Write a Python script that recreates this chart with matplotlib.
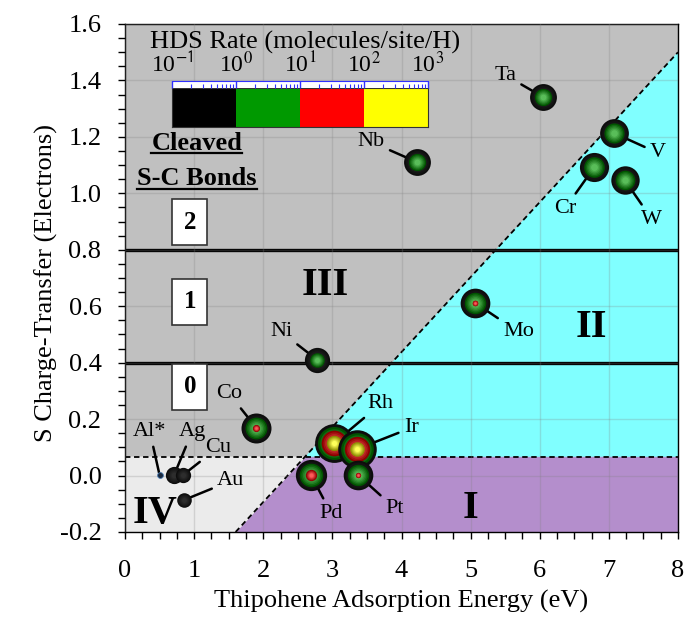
import numpy as np
import matplotlib
matplotlib.use("Agg")
import matplotlib.pyplot as plt
from matplotlib.patches import Polygon
from matplotlib.lines import Line2D
from matplotlib.ticker import MultipleLocator, LogLocator, NullFormatter

plt.rcParams['font.family'] = ['Liberation Serif', 'DejaVu Serif']
plt.rcParams['mathtext.fontset'] = 'stix'
plt.rcParams['axes.unicode_minus'] = False

# metals, adsorption energy (eV), S charge transfer (e), log10 HDS rate
metals = ['Ta', 'Nb', 'V', 'Cr', 'W', 'Mo', 'Ni', 'Co',
          'Rh', 'Ir', 'Pd', 'Pt', 'Al*', 'Ag', 'Cu', 'Au']
energy = [6.05, 4.22, 7.07, 6.79, 7.23, 5.07, 2.78, 1.90,
          3.03, 3.36, 2.69, 3.37, 0.50, 0.71, 0.84, 0.86]
charge = [1.341, 1.111, 1.214, 1.093, 1.047, 0.611, 0.410, 0.169,
          0.116, 0.094, 0.002, 0.002, 0.002, 0.002, 0.002, -0.086]
log_rate = [0.70, 0.70, 0.95, 1.00, 0.90, 1.08, 0.50, 1.12,
            2.55, 2.50, 1.30, 1.07, -0.92, -0.30, -0.45, -0.50]
# where each metal's name sits
label_x = [5.50, 3.56, 7.71, 6.37, 7.62, 5.69, 2.26, 1.51,
           3.70, 4.14, 2.98, 3.90, 0.36, 0.97, 1.34, 1.53]
label_y = [1.419, 1.182, 1.143, 0.948, 0.909, 0.509, 0.509, 0.289,
           0.254, 0.169, -0.133, -0.115, 0.155, 0.155, 0.098, -0.019]

# rate decades and their colours
decade_edges = [0.1, 1, 10, 100, 1000]
decade_labels = ['10$^{\\mathsf{-1}}$', '10$^{0}$', '10$^{1}$', '10$^{2}$', '10$^{3}$']
decade_colors = ['#000000', '#009900', '#ff0000', '#ffff00']

# region boundaries
charge_split = 0.065
diag_start = (1.6, -0.2)
diag_end = (8.0, 1.5)
bond_levels = [0.4, 0.8]
bond_counts = ['0', '1', '2']
bond_label_y = [0.314, 0.615, 0.898]

xmin, xmax, ymin, ymax = 0, 8, -0.2, 1.6


def diag_x(y):
    slope = (diag_end[1] - diag_start[1]) / (diag_end[0] - diag_start[0])
    return diag_start[0] + (y - diag_start[1]) / slope


fig = plt.figure(figsize=(6.85, 6.26), dpi=100)
ax = fig.add_axes([125 / 685, 1 - 532 / 626, 553 / 685, 508 / 626])
ax.set_xlim(xmin, xmax)
ax.set_ylim(ymin, ymax)

# background regions
xs = diag_x(charge_split)
ax.add_patch(Polygon([(xmin, charge_split), (xs, charge_split), diag_end,
                      (xmax, ymax), (xmin, ymax)], color='#c0c0c0', zorder=0))
ax.add_patch(Polygon([(xs, charge_split), (xmax, charge_split), diag_end],
                     color='#80ffff', zorder=0))
ax.add_patch(Polygon([diag_start, (xmax, ymin), (xmax, charge_split),
                      (xs, charge_split)], color='#b48ecc', zorder=0))
ax.add_patch(Polygon([(xmin, ymin), diag_start, (xs, charge_split),
                      (xmin, charge_split)], color='#ebebeb', zorder=0))

ax.grid(True, which='major', color='#808080', alpha=0.25, lw=1.0, zorder=1)
ax.set_axisbelow(False)

ax.plot([diag_start[0], diag_end[0]], [diag_start[1], diag_end[1]],
        color='k', lw=1.3, ls=(0, (3, 2)), zorder=2)
ax.axhline(charge_split, color='k', lw=1.3, ls=(0, (3, 2)), zorder=2)
for lev in bond_levels:
    ax.axhline(lev, color='k', lw=2.4, zorder=2)

# axes and ticks
ax.xaxis.set_major_locator(MultipleLocator(1))
ax.xaxis.set_minor_locator(MultipleLocator(0.25))
ax.yaxis.set_major_locator(MultipleLocator(0.2))
ax.yaxis.set_minor_locator(MultipleLocator(0.05))
ax.yaxis.set_major_formatter(plt.FuncFormatter(lambda v, p: f'{v:.1f}'))
ax.tick_params(which='both', direction='out', length=5, width=1, labelsize=19)
ax.tick_params(axis='x', pad=15)
ax.tick_params(axis='y', pad=12)
for sp in ax.spines.values():
    sp.set_linewidth(1.0)
ax.set_xlabel('Thipohene Adsorption Energy (eV)', fontsize=19, labelpad=6)
ax.set_ylabel('S Charge-Transfer (Electrons)', fontsize=19)
ax.yaxis.set_label_coords(-0.121, 0.49)

# region numerals
for txt, x, y in [('III', 2.9, 0.675), ('II', 6.75, 0.523), ('I', 5.0, -0.115),
                  ('IV', 0.43, -0.133)]:
    ax.text(x, y, txt, fontsize=29, fontweight='bold', ha='center',
            va='center', zorder=3)

# cleaved bond boxes
for txt, y in zip(bond_counts, bond_label_y):
    ax.text(0.94, y, txt, fontsize=18, fontweight='bold', ha='center',
            va='center', zorder=3,
            bbox=dict(boxstyle='square,pad=0.45', fc='white', ec='#333333',
                      lw=1.2))
heads = [ax.text(1.04, 1.178, 'Cleaved', fontsize=19, fontweight='bold',
                 ha='center', va='center', zorder=3),
         ax.text(1.04, 1.051, 'S-C Bonds', fontsize=19, fontweight='bold',
                 ha='center', va='center', zorder=3)]


def to_px(L):
    return 10.3 * np.sqrt(max(L, 0.0))


def shade(c, f):
    c = np.array(matplotlib.colors.to_rgb(c))
    light = c + (1 - c) * 0.35
    dark = c * 0.55
    return dark + (light - dark) * f


def draw_ball(x, y, L, z):
    for k, col in enumerate(decade_colors):
        r = to_px(L - (k - 1))
        if r <= 0:
            break
        steps = 6
        for i in range(steps):
            rr = r * (1 - i / (steps + 1.5))
            if col == '#000000':
                c = np.array([0.05, 0.05, 0.05]) + 0.15 * i / steps
            else:
                c = shade(col, i / (steps - 1))
            ax.scatter([x], [y], s=(2 * rr * 0.72) ** 2, color=c,
                       linewidths=0, zorder=z)
            z += 0.01
    return z


z = 6
for name, x, y, L, tx, ty in zip(metals, energy, charge, log_rate,
                                 label_x, label_y):
    ax.annotate(name, xy=(x, y), xytext=(tx, ty), fontsize=16,
                ha='center', va='center', zorder=5,
                arrowprops=dict(arrowstyle='-', lw=1.8, color='k',
                                shrinkA=2, shrinkB=0))
    if name == 'Al*':
        ax.scatter([x], [y], s=(2 * to_px(L + 1) * 0.72) ** 2,
                   color='#1a2a40', edgecolors='#4a7ab0', linewidths=0.6,
                   zorder=z)
        z += 0.1
    else:
        z = draw_ball(x, y, L, z)

# HDS rate colour bar
fig.text(305 / 685, 1 - 42 / 626, 'HDS Rate (molecules/site/H)',
         fontsize=19, ha='center', va='center')
cax = fig.add_axes([172 / 685, 1 - 127 / 626, 256 / 685, 39 / 626])
cax.set_xscale('log')
cax.set_xlim(decade_edges[0], decade_edges[-1])
for lo, hi, col in zip(decade_edges[:-1], decade_edges[1:], decade_colors):
    cax.axvspan(lo, hi, color=col, lw=0)
cax.set_xticks([])
cax.set_yticks([])
cax.xaxis.set_minor_locator(plt.NullLocator())
for sp in cax.spines.values():
    sp.set_linewidth(0.8)
    sp.set_color('#333333')

rax = fig.add_axes([172 / 685, 1 - 88 / 626, 256 / 685, 7 / 626])
rax.set_facecolor('white')
rax.set_xscale('log')
rax.set_xlim(decade_edges[0], decade_edges[-1])
rax.set_yticks([])
rax.set_xticks(decade_edges)
rax.set_xticklabels(decade_labels)
rax.xaxis.set_minor_locator(LogLocator(base=10, subs=np.arange(2, 10), numticks=10))
rax.xaxis.set_minor_formatter(NullFormatter())
rax.tick_params(axis='x', which='both', bottom=True, top=False,
                labelbottom=False, labeltop=True, direction='in',
                color='#3030ff', labelsize=17, pad=3)
rax.tick_params(axis='x', which='major', length=5, width=1)
rax.tick_params(axis='x', which='minor', length=3, width=0.8)
for side, sp in rax.spines.items():
    sp.set_visible(side == 'top')
rax.spines['top'].set_color('#3030ff')

# underline the column heading
fig.canvas.draw()
inv = fig.transFigure.inverted()
for t in heads:
    bb = t.get_window_extent().transformed(inv)
    fig.add_artist(Line2D([bb.x0, bb.x1], [bb.y0 + 0.002, bb.y0 + 0.002],
                          color='k', lw=1.6, transform=fig.transFigure))

fig.savefig('out.png', dpi=100)
